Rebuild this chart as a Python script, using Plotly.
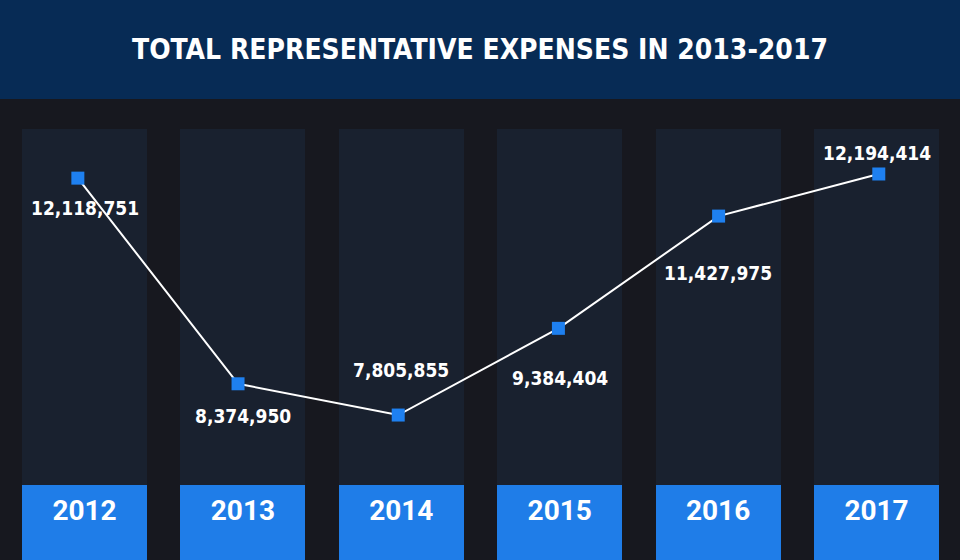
import plotly.graph_objects as go

years = ["2012", "2013", "2014", "2015", "2016", "2017"]
expenses = [12118751, 8374950, 7805855, 9384404, 11427975, 12194414]
label_text = ["12,118,751", "8,374,950", "7,805,855", "9,384,404", "11,427,975", "12,194,414"]
title_text = "TOTAL REPRESENTATIVE EXPENSES IN 2013-2017"

# styling / layout parameters
label_shift = [-30, -32, 45, -50, -57, 21]
W, H = 960, 560
top_m = 129
plot_h = H - top_m
header_h = 99

BG = "#17181f"
HEADER = "#072b55"
COL = "#19212f"
BLUE = "#1f7de8"
MARK = "#1e80f0"
NARROW = "DejaVu Sans Condensed"

idx = list(range(len(years)))

fig = go.Figure()

# column backgrounds
fig.add_trace(go.Bar(x=idx, y=[1] * len(years), width=0.789,
                     marker=dict(color=COL, line=dict(width=0)),
                     xaxis="x", yaxis="y", hoverinfo="skip", showlegend=False))
# blue year bands
band = (H - 485) / plot_h
fig.add_trace(go.Bar(x=idx, y=[band] * len(years), width=0.789,
                     marker=dict(color=BLUE, line=dict(width=0)),
                     xaxis="x", yaxis="y", hoverinfo="skip", showlegend=False))
# year labels
fig.add_trace(go.Scatter(x=idx, y=[(H - 513) / plot_h] * len(years), mode="text",
                         text=years, textposition="middle center",
                         textfont=dict(family="Roboto", size=28, color="white", weight="bold"),
                         xaxis="x", yaxis="y", hoverinfo="skip", showlegend=False))
# line
fig.add_trace(go.Scatter(x=idx, y=expenses, mode="lines+markers",
                         line=dict(color="white", width=2),
                         marker=dict(symbol="square", size=13, color=MARK, line=dict(width=0)),
                         xaxis="x2", yaxis="y2", hoverinfo="skip", showlegend=False))

for i, (v, t, s) in enumerate(zip(expenses, label_text, label_shift)):
    fig.add_annotation(x=i, y=v, xref="x", yref="y2", text=t, showarrow=False,
                       yshift=s, xanchor="center", yanchor="middle",
                       font=dict(family=NARROW, size=19, color="white", weight="bold"))

px_per = 18200
y2_top = expenses[5] + (174 - top_m) * px_per
y2_bot = expenses[2] - (H - 415) * px_per

fig.update_layout(
    width=W, height=H,
    margin=dict(l=0, r=0, t=top_m, b=0),
    paper_bgcolor=BG, plot_bgcolor=BG,
    barmode="overlay", bargap=0,
    hovermode=False,
    title=dict(text=title_text, x=0.5, xanchor="center", y=1 - 49 / H, yanchor="middle",
               font=dict(family=NARROW, size=28, color="white", weight="bold")),
    xaxis=dict(type="linear", range=[-0.5335, 5.527], visible=False, fixedrange=True),
    yaxis=dict(range=[0, 1], visible=False, fixedrange=True),
    xaxis2=dict(type="linear", range=[-0.486, 5.507], overlaying="x", visible=False, fixedrange=True),
    yaxis2=dict(type="linear", range=[y2_bot, y2_top], overlaying="y", visible=False, fixedrange=True),
    shapes=[dict(type="rect", xref="paper", yref="paper", x0=0, x1=1,
                 y0=1 + (top_m - header_h) / plot_h, y1=1 + top_m / plot_h,
                 fillcolor=HEADER, line=dict(width=0), layer="below")],
)

fig.write_html("out.html", config={"displayModeBar": False},
               post_script="document.body.style.margin='0';")
